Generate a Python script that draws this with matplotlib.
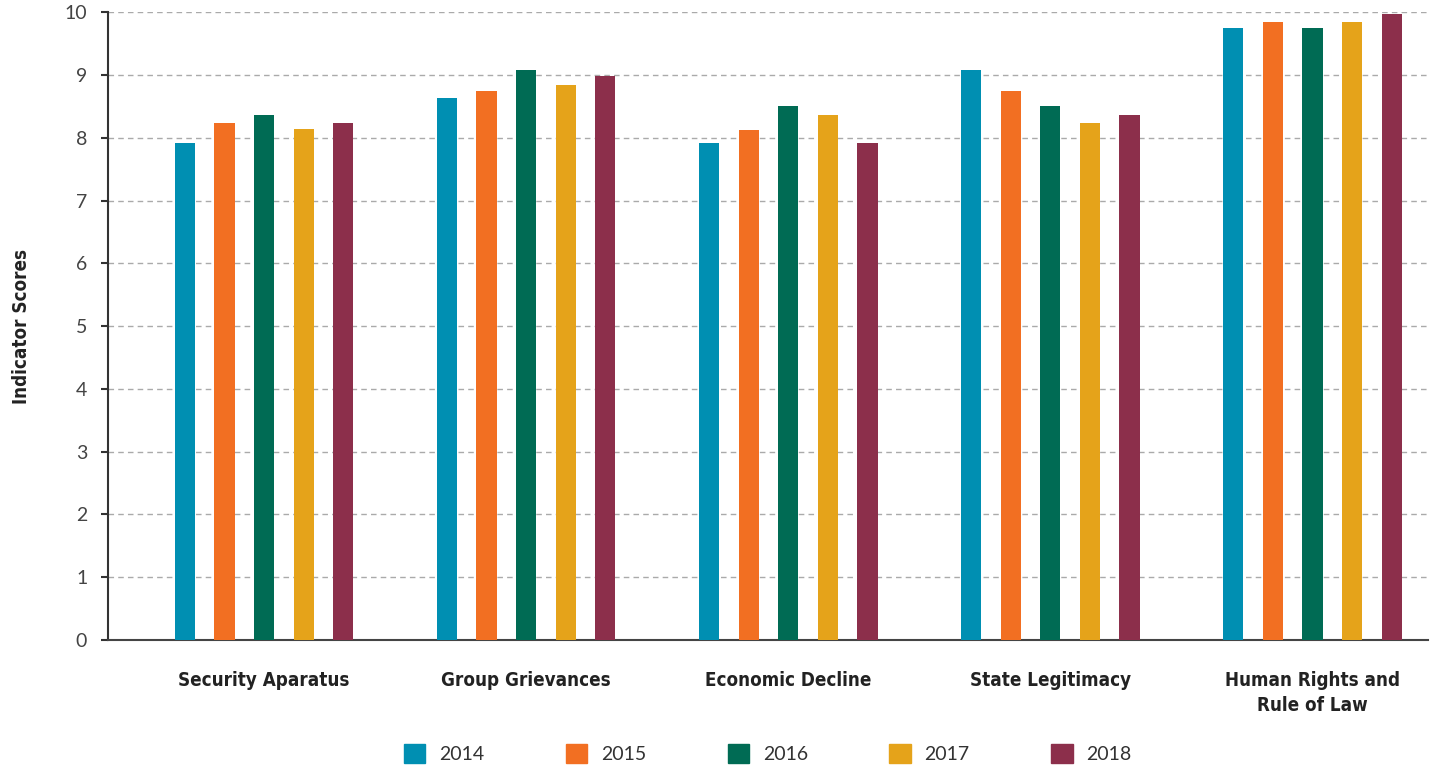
import numpy as np
import matplotlib
matplotlib.use("Agg")
import matplotlib.pyplot as plt
from matplotlib.patches import Patch
from matplotlib import font_manager

# ── Data ──────────────────────────────────────────────────────────────────────
categories = ["Security Aparatus", "Group Grievances", "Economic Decline",
              "State Legitimacy", "Human Rights and\nRule of Law"]
years = ["2014", "2015", "2016", "2017", "2018"]

scores_2014 = [7.91, 8.63, 7.92, 9.08, 9.75]
scores_2015 = [8.23, 8.74, 8.12, 8.75, 9.85]
scores_2016 = [8.36, 9.08, 8.50, 8.51, 9.75]
scores_2017 = [8.14, 8.84, 8.36, 8.24, 9.85]
scores_2018 = [8.23, 8.98, 7.92, 8.37, 9.97]

series = [scores_2014, scores_2015, scores_2016, scores_2017, scores_2018]
colors = ["#008FB2", "#F26F22", "#006B54", "#E5A31A", "#8C2F4B"]

# pick a narrow family for the bold labels if one is installed
names = {f.name for f in font_manager.fontManager.ttflist}
if "Liberation Sans Narrow" in names:
    LABEL_FONT, LABEL_STRETCH = "Liberation Sans Narrow", "normal"
else:
    LABEL_FONT, LABEL_STRETCH = "DejaVu Sans", "condensed"
TICK_FONT = "Lato"

# ── Plot ──────────────────────────────────────────────────────────────────────
fig = plt.figure(figsize=(14.35, 7.66), dpi=100)
ax = fig.add_axes([0.0753, 0.1645, 0.9197, 0.8195])

x = np.arange(len(categories))
spacing = 0.151
width = 0.077
for i, (vals, col, yr) in enumerate(zip(series, colors, years)):
    ax.bar(x + (i - 2) * spacing, vals, width=width, color=col, label=yr, zorder=3)

ax.set_ylim(0, 10)
ax.set_xlim(-0.595, 4.44)
ax.set_yticks(range(0, 11))
ax.yaxis.grid(True, linestyle=(0, (4, 3)), color="#AAAAAA", linewidth=1.0, zorder=0)
ax.set_axisbelow(True)

for s in ["top", "right"]:
    ax.spines[s].set_visible(False)
ax.spines["left"].set_color("#333333")
ax.spines["left"].set_linewidth(1.5)
ax.spines["bottom"].set_color("#444444")
ax.spines["bottom"].set_linewidth(1.5)

ax.tick_params(axis="y", length=5, width=1.5, color="#333333", pad=10,
               labelsize=14, labelcolor="#444444")
for lbl in ax.get_yticklabels():
    lbl.set_family(TICK_FONT)

ax.set_xticks(x)
ax.set_xticklabels(categories, family=LABEL_FONT, fontweight="bold",
                   fontstretch=LABEL_STRETCH, fontsize=13.5, color="#222222",
                   linespacing=1.4)
ax.tick_params(axis="x", length=0, pad=22)

ax.set_ylabel("Indicator Scores", family=LABEL_FONT, fontweight="bold",
              fontstretch=LABEL_STRETCH, fontsize=13.5, color="#222222", labelpad=24)

handles = [Patch(color=c, label=y) for c, y in zip(colors, years)]
leg = fig.legend(handles=handles, loc="center", bbox_to_anchor=(0.535, 0.016),
                 ncol=5, frameon=False, handlelength=1.1, handleheight=1.1,
                 handletextpad=0.7, columnspacing=4.2,
                 prop={"family": TICK_FONT, "size": 14})
for t in leg.get_texts():
    t.set_color("#333333")

plt.savefig("out.png", dpi=100)
plt.close()
